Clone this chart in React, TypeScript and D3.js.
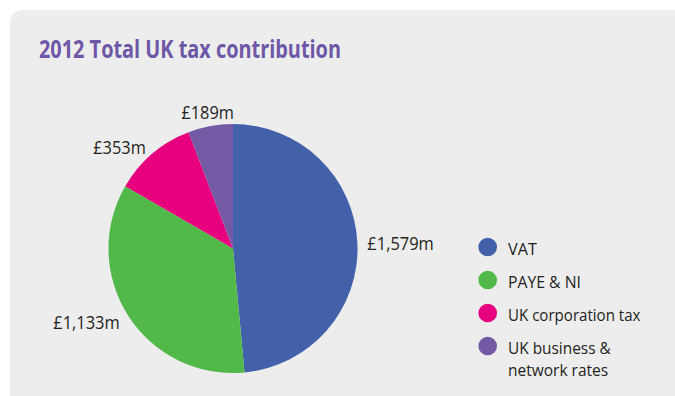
import React from "react";
import * as d3 from "d3";

const categories = ["VAT", "PAYE & NI", "UK corporation tax", "UK business & network rates"];
const values = [1579, 1133, 353, 189];
const valueLabels = ["£1,579m", "£1,133m", "£353m", "£189m"];
const legendLines = [["VAT"], ["PAYE & NI"], ["UK corporation tax"], ["UK business &", "network rates"]];
const colors = ["#4361a8", "#52b84a", "#e6007e", "#745aa5"];
const title = "2012 Total UK tax contribution";

export default function App() {
  const W = 675, H = 396;
  const cx = 233, cy = 248.5, r = 124.5;
  const pie = d3.pie<number>().sort(null).value((d) => d);
  const arcs = pie(values);
  const arc = d3.arc<d3.PieArcDatum<number>>().innerRadius(0).outerRadius(r);
  const font = "'Open Sans', 'Noto Sans', sans-serif";
  const legendY = d3.scaleLinear().domain([0, 1]).range([247, 280]);
  const legendSize = 16.5;
  const condense = 0.83 * (18.5 / legendSize);
  const approxWidth = (s: string, size: number) => {
    let w = 0;
    for (const ch of s) {
      if (ch === " ") w += 0.26;
      else if ("il,.I".includes(ch)) w += 0.27;
      else if ("mw".includes(ch)) w += 0.86;
      else if ("ABCDEHKNOPQRUVXY&".includes(ch)) w += 0.66;
      else if ("ft".includes(ch)) w += 0.34;
      else if ("r".includes(ch)) w += 0.40;
      else if ("T".includes(ch)) w += 0.56;
      else w += 0.56;
    }
    return w * size * condense;
  };

  return (
    <div style={{ position: "absolute", left: 0, top: 0 }}>
      <svg width={W} height={H} style={{ display: "block" }}>
        <rect x={0} y={0} width={W} height={H} fill="#ffffff" />
        <path d={`M10,${H} L10,24 Q10,10 24,10 L${W},10 L${W},${H} Z`} fill="#ededed" />
        <text x={39} y={57.5} fill="#6e57a6" fontFamily={font} fontWeight={700} fontSize={24.5}
          textLength={302} lengthAdjust="spacingAndGlyphs">{title}</text>
        <g transform={`translate(${cx},${cy})`}>
          {arcs.map((a, i) => (
            <path key={i} d={arc(a) || ""} fill={colors[i]} />
          ))}
          {arcs.map((a, i) => {
            const mid = (a.startAngle + a.endAngle) / 2;
            const s = Math.sin(mid);
            const top = Math.abs(s) < 0.3;
            const lr = top ? r + 15 : r + 10;
            const la = d3.arc<any>().innerRadius(lr).outerRadius(lr);
            const [x, y] = la.centroid({ startAngle: mid, endAngle: mid } as any);
            const anchor = top ? "middle" : s > 0 ? "start" : "end";
            return (
              <text key={"l" + i} x={x} y={y} dy="0.42em" textAnchor={anchor} fill="#231f20"
                fontFamily={font} fontSize={18.5}
                textLength={valueLabels[i].length > 5 ? 66.5 : 52.5} lengthAdjust="spacingAndGlyphs">
                {valueLabels[i]}
              </text>
            );
          })}
        </g>
        <g>
          {categories.map((c, i) => {
            const y = legendY(i);
            return (
              <g key={c}>
                <circle cx={487.7} cy={y} r={9.3} fill={colors[i]} />
                {legendLines[i].map((ln, j) => (
                  <text key={j} x={508} y={y + 7.5 + j * 22} fill="#231f20" fontFamily={font} fontSize={legendSize}
                    textLength={approxWidth(ln, legendSize)} lengthAdjust="spacingAndGlyphs">
                    {ln}
                  </text>
                ))}
              </g>
            );
          })}
        </g>
      </svg>
    </div>
  );
}
